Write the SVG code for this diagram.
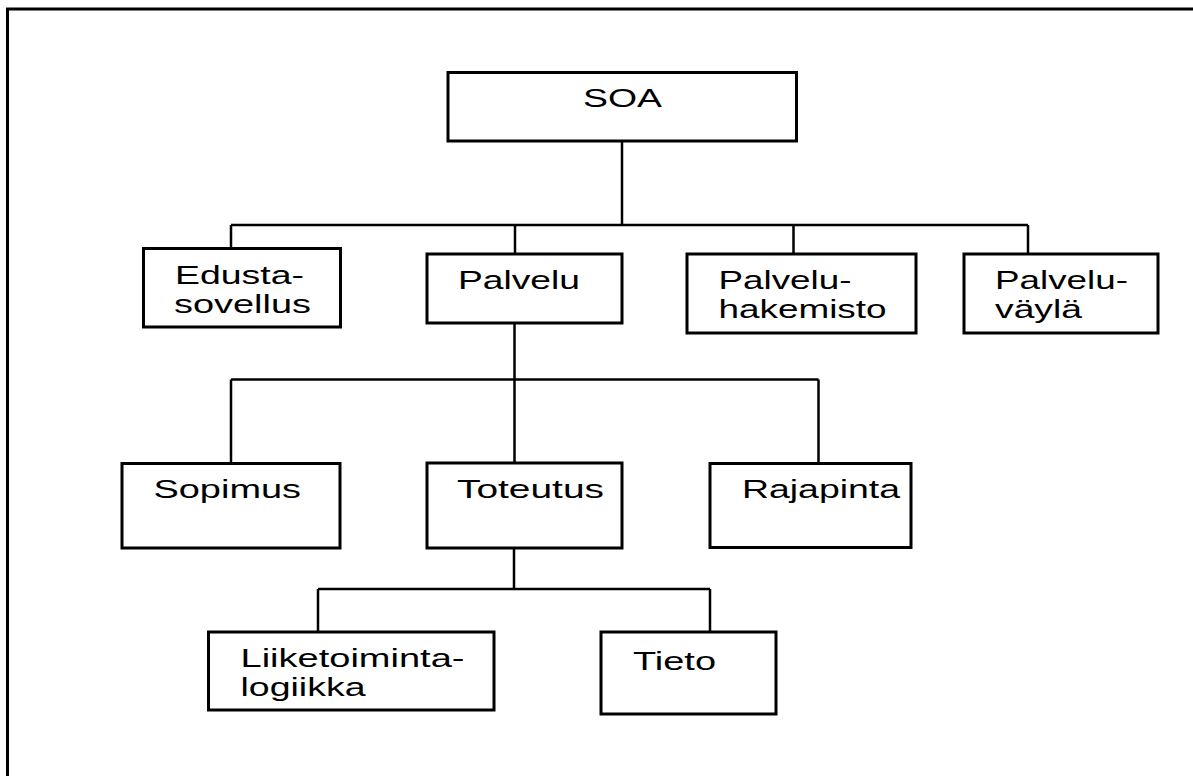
<svg xmlns="http://www.w3.org/2000/svg" width="1193" height="776" viewBox="0 0 1193 776">
  <style>
    .frame { fill: none; stroke: #000; stroke-width: 3; }
    .box { fill: #fff; stroke: #000; stroke-width: 3; }
    .conn { fill: none; stroke: #000; stroke-width: 2.5; }
    text { font-family: "Liberation Sans", Arial, sans-serif; font-size: 25px; fill: #000; }
  </style>
  <rect width="1193" height="776" fill="#fff"/>
  <!-- page frame, only left and top edges visible -->
  <path class="frame" d="M7.5 776 V9 H1193"/>

  <g id="connectors">
    <path class="conn" d="M622 141 V225"/>
    <path class="conn" d="M231 225 H1028"/>
    <path class="conn" d="M231 225 V249"/>
    <path class="conn" d="M515 225 V254"/>
    <path class="conn" d="M793.5 225 V254"/>
    <path class="conn" d="M1028 225 V254"/>
    <path class="conn" d="M514.5 323 V463"/>
    <path class="conn" d="M231 379.5 H818.5"/>
    <path class="conn" d="M231 379.5 V463.5"/>
    <path class="conn" d="M818.5 379.5 V463.5"/>
    <path class="conn" d="M514 548 V589"/>
    <path class="conn" d="M318 589 H710"/>
    <path class="conn" d="M318 589 V632"/>
    <path class="conn" d="M710 589 V632"/>
  </g>

  <g id="soa">
    <rect class="box" x="448" y="72.5" width="348.5" height="68.5"/>
    <text x="583" y="107" textLength="79" lengthAdjust="spacingAndGlyphs">SOA</text>
  </g>
  <g id="edustasovellus">
    <rect class="box" x="143.5" y="248.5" width="197" height="78.5"/>
    <text x="175" y="283.5" textLength="129" lengthAdjust="spacingAndGlyphs">Edusta-</text>
    <text x="174" y="312.5" textLength="137" lengthAdjust="spacingAndGlyphs">sovellus</text>
  </g>
  <g id="palvelu">
    <rect class="box" x="427" y="254" width="195" height="69"/>
    <text x="458" y="288.5" textLength="122" lengthAdjust="spacingAndGlyphs">Palvelu</text>
  </g>
  <g id="palveluhakemisto">
    <rect class="box" x="687" y="254" width="229" height="79"/>
    <text x="718.5" y="289" textLength="133" lengthAdjust="spacingAndGlyphs">Palvelu-</text>
    <text x="718.5" y="317.5" textLength="168" lengthAdjust="spacingAndGlyphs">hakemisto</text>
  </g>
  <g id="palveluvayla">
    <rect class="box" x="964" y="254" width="194" height="79"/>
    <text x="995" y="289" textLength="133" lengthAdjust="spacingAndGlyphs">Palvelu-</text>
    <text x="995" y="317.5" textLength="87" lengthAdjust="spacingAndGlyphs">väylä</text>
  </g>
  <g id="sopimus">
    <rect class="box" x="122" y="463.5" width="218" height="84.5"/>
    <text x="153.5" y="497.5" textLength="147.5" lengthAdjust="spacingAndGlyphs">Sopimus</text>
  </g>
  <g id="toteutus">
    <rect class="box" x="427" y="463" width="195" height="85"/>
    <text x="457" y="498" textLength="147" lengthAdjust="spacingAndGlyphs">Toteutus</text>
  </g>
  <g id="rajapinta">
    <rect class="box" x="710" y="463.5" width="201" height="84"/>
    <text x="742" y="497.5" textLength="158" lengthAdjust="spacingAndGlyphs">Rajapinta</text>
  </g>
  <g id="liiketoimintalogiikka">
    <rect class="box" x="208.5" y="632" width="285.5" height="78"/>
    <text x="240.5" y="667" textLength="224" lengthAdjust="spacingAndGlyphs">Liiketoiminta-</text>
    <text x="240.5" y="695.5" textLength="125" lengthAdjust="spacingAndGlyphs">logiikka</text>
  </g>
  <g id="tieto">
    <rect class="box" x="601" y="632" width="175" height="82"/>
    <text x="633" y="670" textLength="83" lengthAdjust="spacingAndGlyphs">Tieto</text>
  </g>
</svg>
